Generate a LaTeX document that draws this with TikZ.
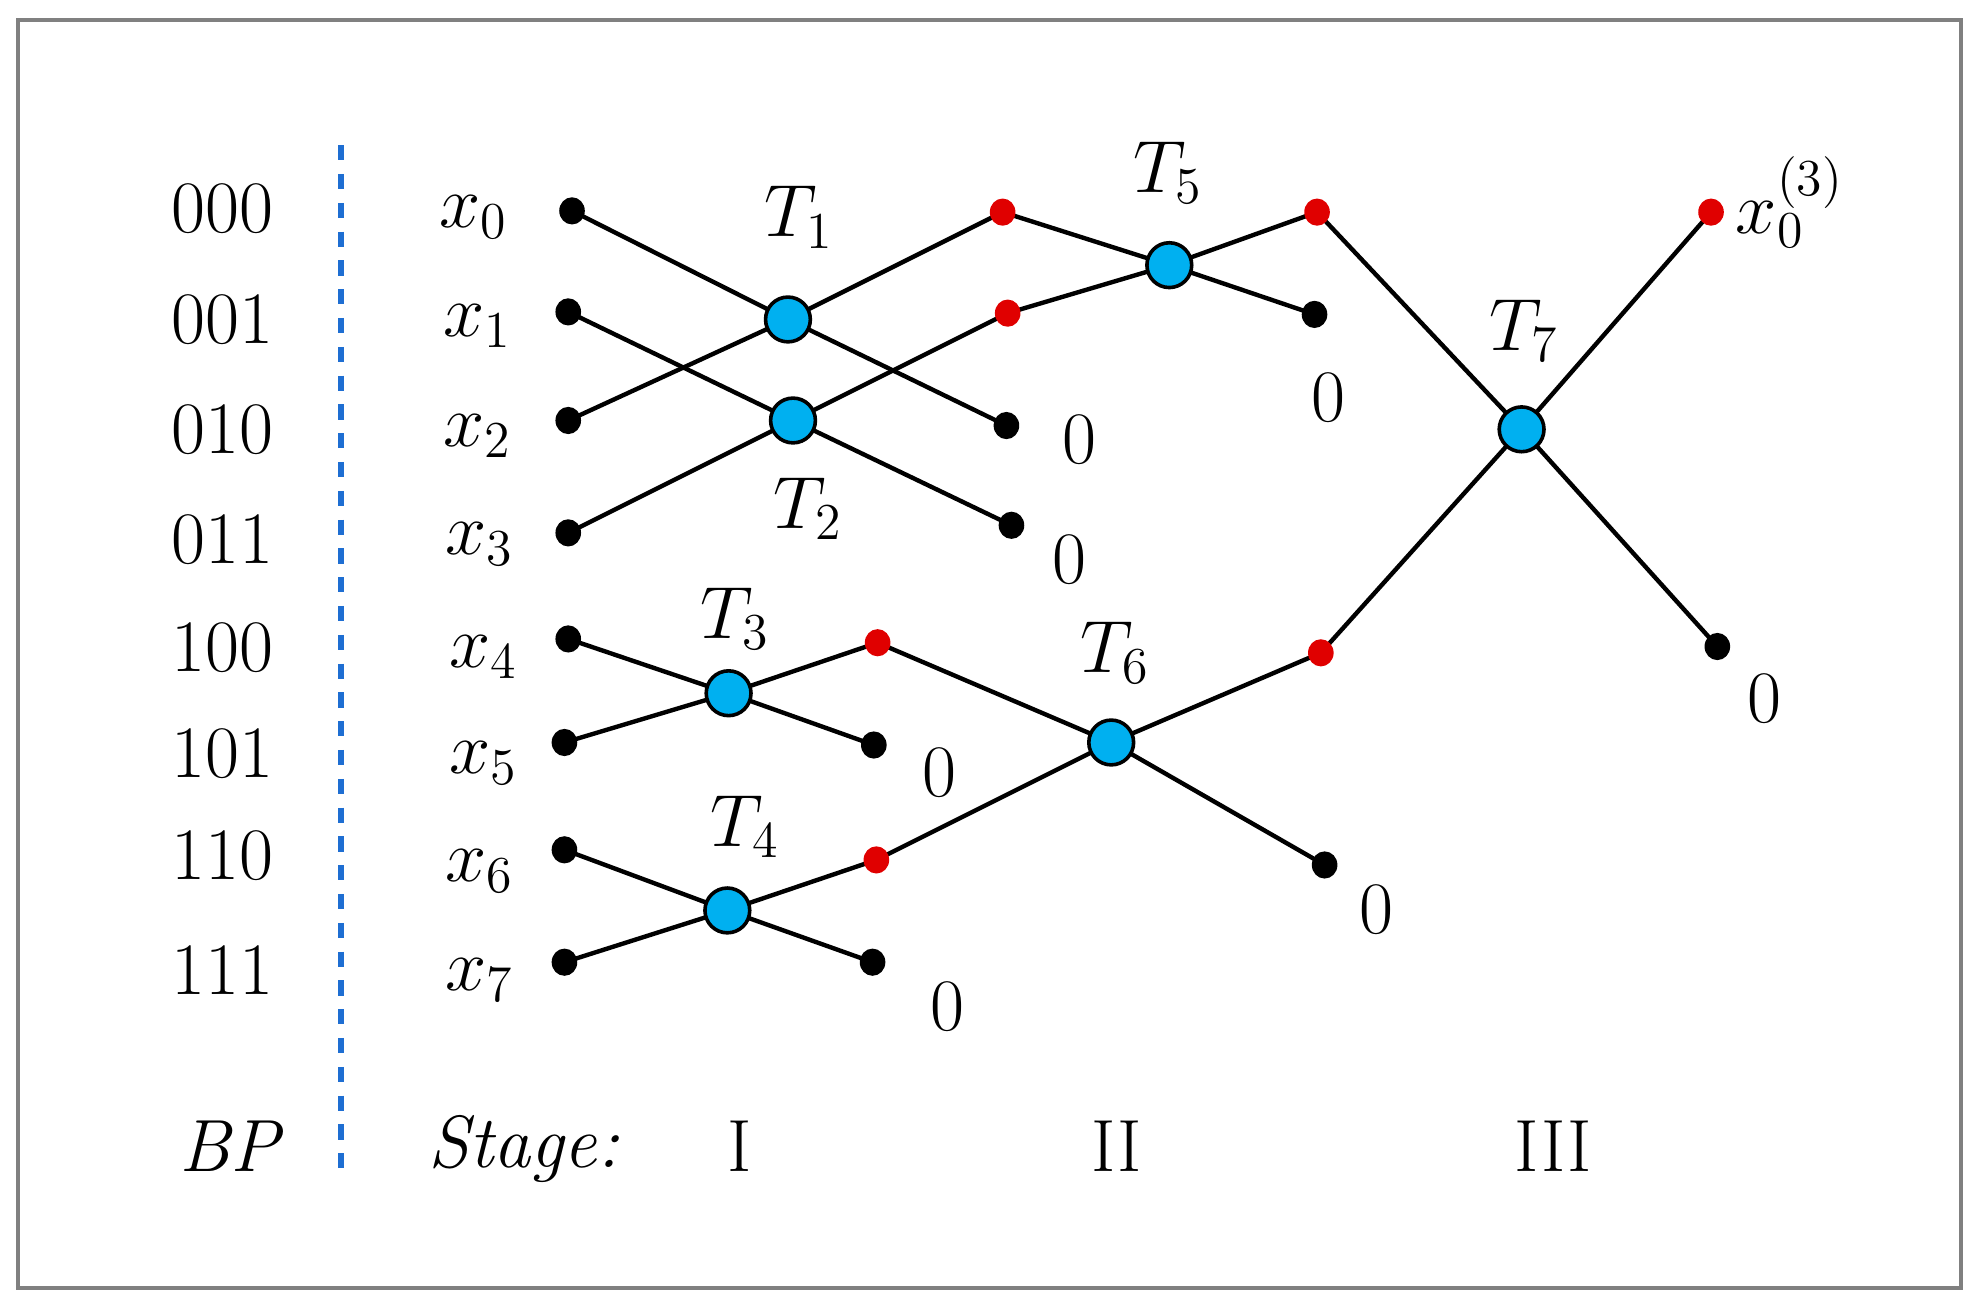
\documentclass[tikz,border=0pt]{standalone}
\usepackage{fix-cm}
\usetikzlibrary{backgrounds,shapes.geometric}
\definecolor{tblue}{RGB}{0,176,240}
\definecolor{dred}{RGB}{224,0,0}
\definecolor{dashblue}{RGB}{30,110,210}
\definecolor{framegray}{RGB}{128,128,128}
\begin{document}
\begin{tikzpicture}[x=0.3157pt,y=-0.3157pt,
  every node/.style={font=\fontsize{18.5}{22}\selectfont},
  tnode/.style={circle,draw=black,line width=0.9pt,fill=tblue,minimum size=11.2pt,inner sep=0pt},
  bdot/.style={ellipse,fill=black,minimum width=6.4pt,minimum height=6.8pt,inner sep=0pt},
  rdot/.style={ellipse,fill=dred,minimum width=6.4pt,minimum height=6.8pt,inner sep=0pt},
  wire/.style={line width=1.1pt,black},
  lbl/.style={inner sep=0pt}]
\useasboundingbox (0,0) rectangle (1568,1033);
\draw[framegray,line width=1pt] (14,16) rectangle (1553,1020);
% dashed separator
\coordinate (dtop) at (270,115);
\coordinate (dbot) at (270,935);
\draw[dashblue,line width=1.3pt,dash pattern=on 3.8pt off 3.4pt] (dtop) -- (dbot);
% bit patterns
\foreach \t/\y in {000/165,001/253,010/340,011/427,100/513,101/597,110/678,111/768}
  \node[lbl] (bp\t) at (176,\y) {\t};
\node[lbl] (bplabel) at (183,908) {\textit{BP}};
% input labels
\node[lbl] (lx0) at (375,172) {$x_0$};
\node[lbl] (lx1) at (378,258) {$x_1$};
\node[lbl] (lx2) at (378,345) {$x_2$};
\node[lbl] (lx3) at (380,431) {$x_3$};
\node[lbl] (lx4) at (383,520) {$x_4$};
\node[lbl] (lx5) at (383,604) {$x_5$};
\node[lbl] (lx6) at (380,690) {$x_6$};
\node[lbl] (lx7) at (380,776) {$x_7$};
% input dots
\node[bdot] (a0) at (453,167) {};
\node[bdot] (a1) at (450,247) {};
\node[bdot] (a2) at (450,333) {};
\node[bdot] (a3) at (450,422) {};
\node[bdot] (a4) at (450,506) {};
\node[bdot] (a5) at (447,588) {};
\node[bdot] (a6) at (447,673) {};
\node[bdot] (a7) at (447,762) {};
% stage I
\node[tnode] (T1) at (624,253) {};
\node[tnode] (T2) at (628,333) {};
\node[tnode] (T3) at (577,549) {};
\node[tnode] (T4) at (576,721) {};
\node[rdot] (r1) at (794,168) {};
\node[rdot] (r2) at (798,248) {};
\node[bdot] (z1) at (797,337) {};
\node[bdot] (z2) at (801,416) {};
\node[rdot] (r3) at (695,509) {};
\node[bdot] (z3) at (692,590) {};
\node[rdot] (r4) at (694,681) {};
\node[bdot] (z4) at (691,762) {};
% stage II
\node[tnode] (T5) at (926,210) {};
\node[rdot] (r5) at (1043,168) {};
\node[bdot] (z5) at (1041,249) {};
\node[tnode] (T6) at (880,588) {};
\node[rdot] (r6) at (1046,517) {};
\node[bdot] (z6) at (1049,685) {};
% stage III
\node[tnode] (T7) at (1205,340) {};
\node[rdot] (r7) at (1355,168) {};
\node[bdot] (z7) at (1360,512) {};
% T labels
\node[lbl] (lT1) at (633,172) {$T_1$};
\node[lbl] (lT2) at (640,403) {$T_2$};
\node[lbl] (lT3) at (582,490) {$T_3$};
\node[lbl] (lT4) at (590,655) {$T_4$};
\node[lbl] (lT5) at (925,137) {$T_5$};
\node[lbl] (lT6) at (883,517) {$T_6$};
\node[lbl] (lT7) at (1207,262) {$T_7$};
% zero labels
\node[lbl] (n1) at (855,348) {0};
\node[lbl] (n2) at (847,443) {0};
\node[lbl] (n3) at (744,612) {0};
\node[lbl] (n4) at (750,797) {0};
\node[lbl] (n5) at (1052,315) {0};
\node[lbl] (n6) at (1090,720) {0};
\node[lbl] (n7) at (1397,553) {0};
\node[lbl,anchor=west] (out) at (1374,160) {$x_0^{(3)}$};
% stage labels
\node[lbl] (stg) at (415,910) {\textit{Stage:}};
\node[lbl] (s1) at (586,908) {I};
\node[lbl] (s2) at (884,908) {II};
\node[lbl] (s3) at (1230,908) {III};
% wires
\begin{scope}[on background layer]
\draw[wire] (a0.center) -- (T1.center) -- (z1.center);
\draw[wire] (a2.center) -- (T1.center) -- (r1.center);
\draw[wire] (a1.center) -- (T2.center) -- (z2.center);
\draw[wire] (a3.center) -- (T2.center) -- (r2.center);
\draw[wire] (a4.center) -- (T3.center) -- (z3.center);
\draw[wire] (a5.center) -- (T3.center) -- (r3.center);
\draw[wire] (a6.center) -- (T4.center) -- (z4.center);
\draw[wire] (a7.center) -- (T4.center) -- (r4.center);
\draw[wire] (r1.center) -- (T5.center) -- (z5.center);
\draw[wire] (r2.center) -- (T5.center) -- (r5.center);
\draw[wire] (r3.center) -- (T6.center) -- (z6.center);
\draw[wire] (r4.center) -- (T6.center) -- (r6.center);
\draw[wire] (r5.center) -- (T7.center) -- (z7.center);
\draw[wire] (r6.center) -- (T7.center) -- (r7.center);
\end{scope}
\end{tikzpicture}
\end{document}
